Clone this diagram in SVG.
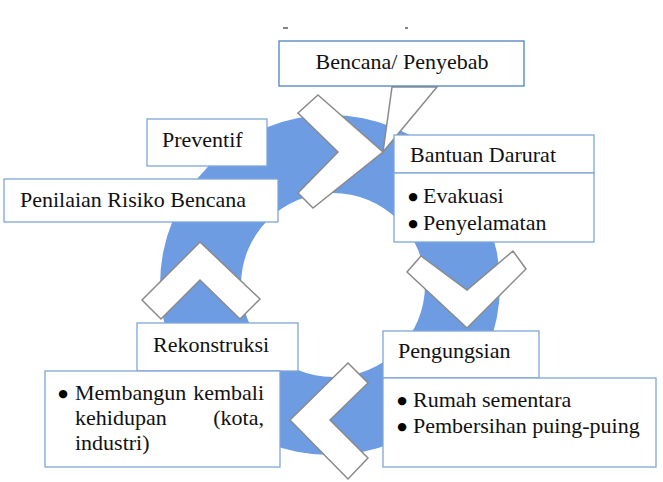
<svg xmlns="http://www.w3.org/2000/svg" width="663" height="482" viewBox="0 0 663 482">
  <style>
    .box { fill: #ffffff; stroke: #7ea6d9; stroke-width: 1.3; }
    .boxdark { fill: #ffffff; stroke: #4f81bd; stroke-width: 1.3; }
    .chev { fill: #ffffff; stroke: #8a8a8a; stroke-width: 1.5; stroke-linejoin: miter; }
    .ring { fill: #6d9ce2; fill-rule: evenodd; }
    .t { font-family: "Liberation Serif", "Times New Roman", serif; font-size: 22px; fill: #111111; }
    .b { font-family: "DejaVu Sans", sans-serif; font-size: 11px; fill: #000000; text-anchor: middle; }
    .end { text-anchor: end; }
  </style>
  <rect width="663" height="482" fill="#ffffff"/>

  <!-- stray marks at top -->
  <g id="marks" stroke="#333" stroke-width="1.2">
    <line x1="283" y1="28" x2="288" y2="28"/>
    <line x1="405" y1="28" x2="408" y2="28"/>
  </g>

  <!-- cycle ring -->
  <g id="ring">
    <path class="ring" d="M 160 285 A 170 170 0 1 0 500 285 A 170 170 0 1 0 160 285 Z M 241 285 A 92 92 0 1 0 425 285 A 92 92 0 1 0 241 285 Z"/>
  </g>

  <!-- connectors: chevron arrows and callout pointer -->
  <g id="connectors">
    <polygon class="chev" points="392,87 383,152 437,87"/>
    <polygon class="chev" points="318,95 383,152 313,208 298,193 338,152 298,113"/>
    <polygon class="chev" points="421,256 467,290 513,251 526,269 467,328 407,272"/>
    <polygon class="chev" points="348,363 368,383 330,420 368,458 348,479 290,420"/>
    <polygon class="chev" points="200,242 260,299 240,319 200,280 161,319 142,300"/>
  </g>

  <g id="bencana">
    <rect class="boxdark" x="279" y="41" width="245" height="45"/>
    <text class="t" x="402" y="69" text-anchor="middle">Bencana/ Penyebab</text>
  </g>

  <g id="preventif">
    <rect class="box" x="147" y="119" width="120" height="47"/>
    <text class="t" x="162" y="147">Preventif</text>
  </g>

  <g id="penilaian">
    <rect class="box" x="4" y="179" width="274" height="43"/>
    <text class="t" x="20" y="207">Penilaian Risiko Bencana</text>
  </g>

  <g id="bantuan">
    <rect class="box" x="394" y="135" width="200" height="38"/>
    <text class="t" x="410" y="162">Bantuan Darurat</text>
    <rect class="box" x="394" y="173" width="200" height="69"/>
    <text class="b" x="413" y="200">●</text>
    <text class="t" x="423" y="203">Evakuasi</text>
    <text class="b" x="413" y="227">●</text>
    <text class="t" x="423" y="230">Penyelamatan</text>
  </g>

  <g id="pengungsian">
    <rect class="box" x="383" y="331" width="156" height="47"/>
    <text class="t" x="398" y="358">Pengungsian</text>
    <rect class="box" x="383" y="378" width="273" height="89"/>
    <text class="b" x="402" y="404">●</text>
    <text class="t" x="413" y="407">Rumah sementara</text>
    <text class="b" x="402" y="430">●</text>
    <text class="t" x="413" y="433">Pembersihan puing-puing</text>
  </g>

  <g id="rekonstruksi">
    <rect class="box" x="137" y="323" width="161" height="48"/>
    <text class="t" x="153" y="352">Rekonstruksi</text>
    <rect class="box" x="45" y="371" width="235" height="96"/>
    <text class="b" x="63" y="397">●</text>
    <text class="t" x="75" y="400">Membangun</text>
    <text class="t end" x="264" y="400">kembali</text>
    <text class="t" x="75" y="425">kehidupan</text>
    <text class="t end" x="264" y="425">(kota,</text>
    <text class="t" x="75" y="450">industri)</text>
  </g>
</svg>
